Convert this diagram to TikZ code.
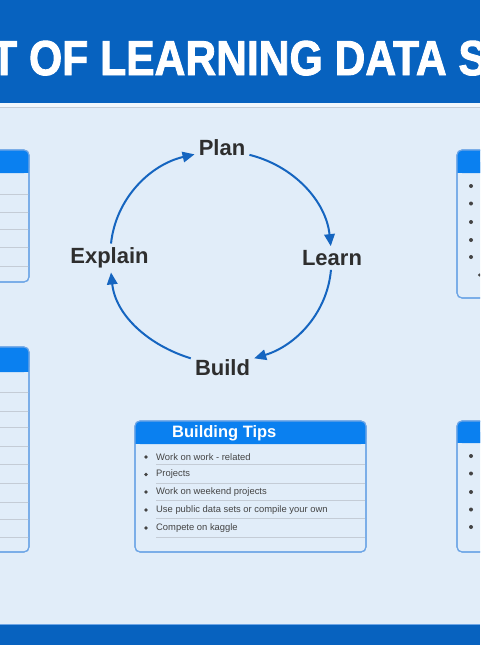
\documentclass[tikz,border=0pt]{standalone}
\usepackage{graphicx}
\usepackage{fontspec}
\setmainfont{Liberation Sans}
\newfontfamily\titlefont[FakeBold=2]{Liberation Sans Bold}
\usetikzlibrary{arrows.meta}
\definecolor{bg}{HTML}{E1EDF9}
\definecolor{band}{HTML}{0762BF}
\definecolor{hdr}{HTML}{0A80F0}
\definecolor{bord}{HTML}{6EA6E6}
\definecolor{sep}{HTML}{C4CCD6}
\definecolor{txt}{HTML}{444444}
\definecolor{lbl}{HTML}{2E2E2E}
\definecolor{arr}{HTML}{1565C0}
\tikzset{
  panel/.style={fill=bg, draw=bord, line width=1.1pt, rounded corners=5pt},
  paneledge/.style={draw=bord, line width=1.1pt, rounded corners=5pt},
  hdrfill/.style={fill=hdr},
  sepline/.style={draw=sep, line width=0.8pt},
  dot/.style={fill=txt},
  item/.style={anchor=west, inner sep=0pt, text=txt, font=\fontsize{9.4}{11}\selectfont},
  hdrtext/.style={inner sep=0pt, text=white, font=\fontsize{16.5}{18}\selectfont\bfseries},
  cyc/.style={font=\fontsize{22}{24}\selectfont\bfseries, text=lbl, inner sep=4pt},
  conn/.style={draw=arr, line width=2pt, -{Triangle[length=12pt,width=10.5pt]}}
}
\begin{document}
\begin{tikzpicture}[x=1pt,y=1pt]
\useasboundingbox (0,0) rectangle (480,-645);
\clip (0,0) rectangle (480,-645);
% background and bands
\fill[bg] (0,0) rectangle (480,-645);
\fill[band] (0,0) rectangle (480,-103);
\fill[white!55!bg] (0,-103) rectangle (480,-106.5);
\draw[sep, line width=0.8pt] (0,-107) -- (480,-107);
\fill[band] (0,-624) rectangle (480,-645);
\draw[bord, line width=1pt] (0,-624.5) -- (480,-624.5);
% title
\node[anchor=base west, text=white, inner sep=0pt] (title) at (-9,-75)
  {\titlefont\fontsize{49}{49}\selectfont\scalebox{0.87}[1]{T OF LEARNING DATA S}};

% ---------- left box 1 ----------
\path[panel] (-60,-150) rectangle (29,-282);
\fill[hdrfill, rounded corners=5pt] (-60,-150) rectangle (29,-173);
\fill[hdrfill] (-60,-162) rectangle (29,-173);
\foreach \yy in {194,212,229.5,247,266} \draw[sepline] (0,-\yy) -- (28.5,-\yy);
\path[paneledge] (-60,-150) rectangle (29,-282);

% ---------- left box 2 ----------
\path[panel] (-60,-347) rectangle (29,-552);
\fill[hdrfill, rounded corners=5pt] (-60,-347) rectangle (29,-372);
\fill[hdrfill] (-60,-360) rectangle (29,-372);
\foreach \yy in {392,411,427.5,446,464.5,483,502,519.5,537} \draw[sepline] (0,-\yy) -- (28.5,-\yy);
\path[paneledge] (-60,-347) rectangle (29,-552);

% ---------- right box 1 ----------
\path[panel] (457,-150) rectangle (540,-298);
\fill[hdrfill, rounded corners=5pt] (457,-150) rectangle (540,-173);
\fill[hdrfill] (457,-162) rectangle (540,-173);
\path[paneledge] (457,-150) rectangle (540,-298);
\foreach \yy in {186,203.5,222,240,257} \fill[dot] (471,-\yy) circle (2);
\fill[dot] (479.5,-275) circle (1.7);

% ---------- right box 2 ----------
\path[panel] (457,-421) rectangle (540,-552);
\fill[hdrfill, rounded corners=5pt] (457,-421) rectangle (540,-443);
\fill[hdrfill] (457,-432) rectangle (540,-443);
\path[paneledge] (457,-421) rectangle (540,-552);
\foreach \yy in {456,473.5,492,509.5,527} \fill[dot] (471,-\yy) circle (2);

% ---------- Building Tips ----------
\path[panel] (135,-421) rectangle (366,-552);
\fill[hdrfill, rounded corners=5pt] (135,-421) rectangle (366,-444);
\fill[hdrfill] (135,-433) rectangle (366,-444);
\path[paneledge] (135,-421) rectangle (366,-552);
\node[hdrtext, anchor=west] (bt) at (172,-433.5) {Building Tips};
\foreach \yy in {464.5,483,500.5,518,537} \draw[sepline] (156,-\yy) -- (365,-\yy);
\foreach \yy in {457,474.5,492,510,528} \fill[dot] (146,-\yy) circle (1.9);
\node[item] (t1) at (156,-457) {Work on work - related};
\node[item] (t2) at (156,-474.5) {Projects};
\node[item] (t3) at (156,-492) {Work on weekend projects};
\node[item] (t4) at (156,-510) {Use public data sets or compile your own};
\node[item] (t5) at (156,-528) {Compete on kaggle};

% ---------- cycle ----------
\node[cyc] (plan) at (222,-148) {Plan};
\node[cyc] (learn) at (332,-258) {Learn};
\node[cyc] (build) at (222.5,-368) {Build};
\node[cyc] (explain) at (109.5,-258) {Explain};
\draw[conn] (plan) to[out=-14,in=96,looseness=0.95] (learn);
\draw[conn] (learn) to[out=-95,in=17,looseness=0.95] (build);
\draw[conn] (build) to[out=163,in=-84,looseness=0.95] (explain);
\draw[conn] (explain) to[out=84,in=193,looseness=0.95] (plan);
\end{tikzpicture}
\end{document}
